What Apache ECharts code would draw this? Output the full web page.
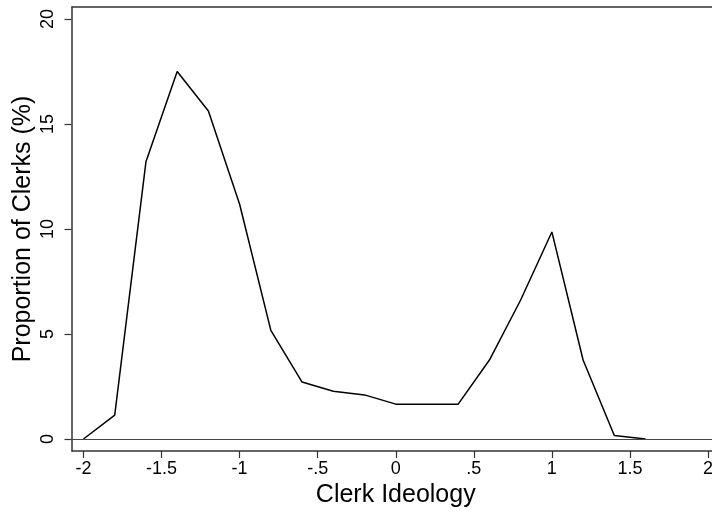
<!DOCTYPE html>
<html>
<head>
<meta charset="utf-8">
<script src="https://cdn.jsdelivr.net/npm/echarts@6/dist/echarts.min.js"></script>
<style>
  html, body { margin: 0; padding: 0; background: #fff; }
  #chart { width: 712px; height: 512px; }
</style>
</head>
<body>
<div id="chart"></div>
<script>
// clerk ideology (x) vs proportion of clerks in %
const ideology = [-2, -1.8, -1.6, -1.4, -1.2, -1, -0.8, -0.6, -0.4, -0.2, 0, 0.2, 0.4, 0.6, 0.8, 1, 1.2, 1.4, 1.6];
const proportion = [0, 1.14, 13.2, 17.5, 15.62, 11.18, 5.17, 2.71, 2.27, 2.1, 1.66, 1.66, 1.66, 3.76, 6.62, 9.86, 3.76, 0.17, 0];
const xTickLabels = { '-2': '-2', '-1.5': '-1.5', '-1': '-1', '-0.5': '-.5', '0': '0', '0.5': '.5', '1': '1', '1.5': '1.5', '2': '2' };

const font = 'Liberation Sans, Arial, sans-serif';
const frameColor = '#333';

let chart = echarts.init(document.getElementById('chart'));

let option = {
    animation: false,
    backgroundColor: '#fff',
    grid: [
        // data area
        { left: 83.5, right: 4, top: 19, bottom: 73, outerBoundsMode: 'none' },
        // outer frame (extends a bit past the plot on all sides)
        { left: 72, right: -10, top: 7, bottom: 61, outerBoundsMode: 'none' }
    ],
    xAxis: [{
        gridIndex: 0,
        type: 'value',
        min: -2, max: 2, interval: 0.5,
        offset: 12,
        axisLine: { show: false, onZero: false },
        axisTick: { show: true, length: 7, lineStyle: { color: frameColor, width: 1.2 } },
        splitLine: { show: false },
        axisLabel: {
            color: '#000', fontFamily: font, fontSize: 18, margin: 9,
            formatter: v => xTickLabels[String(v)] ?? String(v)
        },
        name: 'Clerk Ideology',
        nameLocation: 'middle',
        nameGap: 29,
        nameTextStyle: { color: '#000', fontFamily: font, fontSize: 25 }
    }, {
        gridIndex: 1,
        type: 'value', min: 0, max: 1,
        axisLine: { show: true, onZero: false, lineStyle: { color: frameColor, width: 1.5 } },
        axisTick: { show: false }, axisLabel: { show: false }, splitLine: { show: false }
    }, {
        gridIndex: 1, position: 'top',
        type: 'value', min: 0, max: 1,
        axisLine: { show: true, onZero: false, lineStyle: { color: frameColor, width: 1.5 } },
        axisTick: { show: false }, axisLabel: { show: false }, splitLine: { show: false }
    }],
    yAxis: [{
        gridIndex: 0,
        type: 'value',
        min: 0, max: 20, interval: 5,
        offset: 12,
        axisLine: { show: false, onZero: false },
        axisTick: { show: true, length: 7, lineStyle: { color: frameColor, width: 1.2 } },
        splitLine: { show: false },
        axisLabel: { color: '#000', fontFamily: font, fontSize: 18, rotate: 90, margin: 14 },
        name: 'Proportion of Clerks (%)',
        nameLocation: 'middle',
        nameGap: 36,
        nameMoveOverlap: false,
        nameTextStyle: { color: '#000', fontFamily: font, fontSize: 25 }
    }, {
        gridIndex: 1,
        type: 'value', min: -12 / 21, max: 20 + 12 / 21,
        axisLine: { show: true, onZero: false, lineStyle: { color: frameColor, width: 1.5 } },
        axisTick: { show: false }, axisLabel: { show: false }, splitLine: { show: false }
    }],
    series: [{
        // zero reference line across the whole frame
        type: 'line',
        xAxisIndex: 1, yAxisIndex: 1,
        data: [],
        silent: true,
        markLine: {
            symbol: 'none', silent: true, label: { show: false },
            lineStyle: { color: '#444', width: 1.2, type: 'solid' },
            data: [{ yAxis: 0 }]
        }
    }, {
        type: 'line',
        xAxisIndex: 0, yAxisIndex: 0,
        data: ideology.map((x, i) => [x, proportion[i]]),
        showSymbol: false,
        lineStyle: { color: '#000', width: 1.5 },
        z: 3
    }]
};

chart.setOption(option);
</script>
</body>
</html>
